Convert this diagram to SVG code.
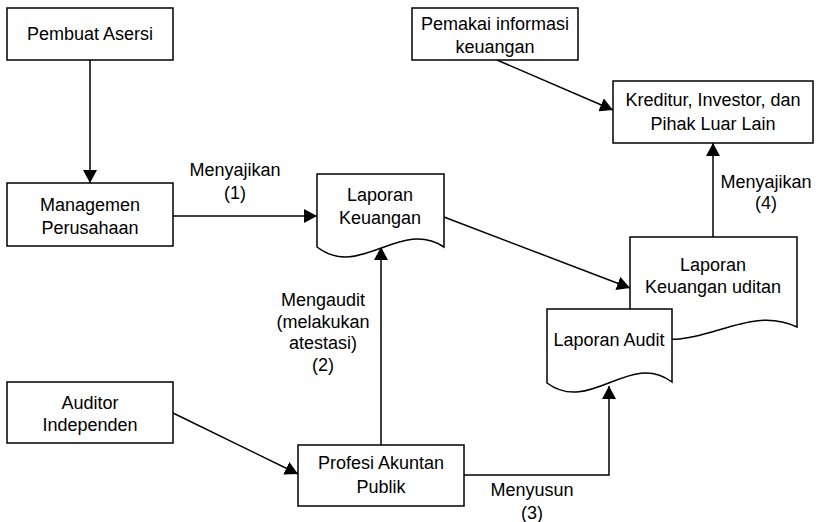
<svg xmlns="http://www.w3.org/2000/svg" width="818" height="522" viewBox="0 0 818 522">
<style>
.box{fill:#fff;stroke:#000;stroke-width:1.5}
.t{font-family:"Liberation Sans",Arial,sans-serif;font-size:18px;fill:#000;text-anchor:middle}
.c{fill:none;stroke:#000;stroke-width:1.5}
</style>
<defs>
<marker id="ah" markerUnits="userSpaceOnUse" markerWidth="14" markerHeight="14" refX="13" refY="7" orient="auto">
<path d="M0,0 L13,7 L0,14 Z" fill="#000"/>
</marker>
</defs>
<rect width="818" height="522" fill="#fff"/>
<g id="connectors">
<line class="c" x1="90" y1="60" x2="90" y2="183" marker-end="url(#ah)"/>
<line class="c" x1="173" y1="216" x2="317" y2="216" marker-end="url(#ah)"/>
<line class="c" x1="497" y1="60" x2="613" y2="110" marker-end="url(#ah)"/>
<line class="c" x1="444" y1="217" x2="630" y2="288" marker-end="url(#ah)"/>
<line class="c" x1="713" y1="237" x2="713" y2="143" marker-end="url(#ah)"/>
<line class="c" x1="173" y1="413" x2="298" y2="474" marker-end="url(#ah)"/>
<line class="c" x1="381" y1="445" x2="381" y2="247" marker-end="url(#ah)"/>
<polyline class="c" points="464,475 609,475 609,386" marker-end="url(#ah)"/>
<text class="t" x="235" y="176">Menyajikan</text>
<text class="t" x="235" y="199">(1)</text>
<text class="t" x="766" y="188">Menyajikan</text>
<text class="t" x="766" y="209">(4)</text>
<text class="t" x="323" y="306">Mengaudit</text>
<text class="t" x="323" y="328">(melakukan</text>
<text class="t" x="323" y="349">atestasi)</text>
<text class="t" x="323" y="371">(2)</text>
<text class="t" x="532" y="496">Menyusun</text>
<text class="t" x="532" y="519">(3)</text>
</g>
<g id="pembuat">
<rect class="box" x="7" y="8" width="166" height="52"/>
<text class="t" x="90" y="40">Pembuat Asersi</text>
</g>
<g id="managemen">
<rect class="box" x="7" y="183" width="166" height="63"/>
<text class="t" x="90" y="211">Managemen</text>
<text class="t" x="90" y="234">Perusahaan</text>
</g>
<g id="laporan-keuangan">
<path class="box" d="M317,174 H444 V247 C400,218 360,280 317,247 Z"/>
<text class="t" x="380" y="201">Laporan</text>
<text class="t" x="380" y="224">Keuangan</text>
</g>
<g id="pemakai">
<rect class="box" x="412" y="8" width="166" height="52"/>
<text class="t" x="495" y="30">Pemakai informasi</text>
<text class="t" x="495" y="53">keuangan</text>
</g>
<g id="kreditur">
<rect class="box" x="613" y="81" width="200" height="62"/>
<text class="t" x="713" y="106">Kreditur, Investor, dan</text>
<text class="t" x="713" y="130">Pihak Luar Lain</text>
</g>
<g id="laporan-uditan">
<path class="box" d="M630,237 H797 V327 C740,300 690,365 630,327 Z"/>
<text class="t" x="713" y="271">Laporan</text>
<text class="t" x="713" y="293">Keuangan uditan</text>
</g>
<g id="laporan-audit">
<path class="box" d="M547,309 H672 V382 C630,350 590,415 547,383 Z"/>
<text class="t" x="609" y="346">Laporan Audit</text>
</g>
<g id="auditor">
<rect class="box" x="7" y="382" width="166" height="61"/>
<text class="t" x="90" y="409">Auditor</text>
<text class="t" x="90" y="431">Independen</text>
</g>
<g id="profesi">
<rect class="box" x="298" y="445" width="166" height="61"/>
<text class="t" x="381" y="469">Profesi Akuntan</text>
<text class="t" x="381" y="493">Publik</text>
</g>
</svg>
